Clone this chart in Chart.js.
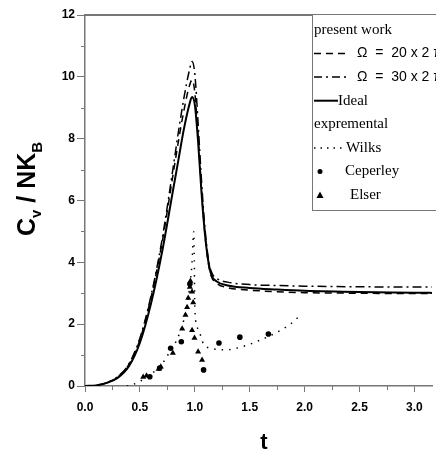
<!DOCTYPE html>
<html>
<head>
<meta charset="utf-8">
<script src="https://cdn.jsdelivr.net/npm/chart.js@4.4.0/dist/chart.umd.min.js"></script>
<style>
	body { margin: 0; background: #fff; }
	canvas { display: block; }
</style>
</head>
<body>
<canvas id="chart_cv" width="436" height="452"></canvas>
<script>
// theory curves share one t grid
var tTheory   = [0, 0.1, 0.2, 0.3, 0.4, 0.5, 0.6, 0.7, 0.8, 0.85, 0.9, 0.95, 0.975, 1.0, 1.03, 1.06, 1.09, 1.12, 1.15, 1.2, 1.3, 1.5, 1.75, 2.0, 2.5, 3.0, 3.2];
var cvIdeal   = [0, 0.02, 0.1, 0.27, 0.64, 1.4, 2.65, 4.3, 6.3, 7.3, 8.3, 9.1, 9.35, 9.1, 7.9, 6.3, 5.0, 4.1, 3.6, 3.38, 3.25, 3.17, 3.12, 3.08, 3.04, 3.02, 3.01];
var cvOmega20 = [0, 0.02, 0.11, 0.3, 0.7, 1.5, 2.85, 4.6, 6.8, 7.9, 8.9, 9.7, 9.9, 9.5, 8.1, 6.4, 5.0, 4.05, 3.55, 3.32, 3.18, 3.1, 3.05, 3.02, 3.0, 2.99, 2.99];
var cvOmega30 = [0, 0.02, 0.11, 0.31, 0.72, 1.55, 2.9, 4.7, 7.0, 8.2, 9.3, 10.2, 10.5, 10.1, 8.5, 6.7, 5.2, 4.2, 3.7, 3.48, 3.36, 3.28, 3.25, 3.23, 3.21, 3.2, 3.2];

// experimental
var tWilks  = [0.38, 0.42, 0.5, 0.585, 0.68, 0.75, 0.83, 0.9, 0.95, 0.975, 0.99, 0.995, 1.0, 1.03, 1.08, 1.14, 1.28, 1.43, 1.6, 1.76, 1.88, 1.95];
var cvWilks = [0.0, 0.03, 0.15, 0.36, 0.6, 0.98, 1.45, 2.14, 3.1, 4.0, 5.0, 4.3, 2.5, 1.85, 1.35, 1.23, 1.17, 1.27, 1.49, 1.76, 2.03, 2.25];

var tCeperley  = [0.59, 0.68, 0.78, 0.877, 0.955, 1.08, 1.22, 1.41, 1.67];
var cvCeperley = [0.3, 0.58, 1.22, 1.43, 3.3, 0.52, 1.39, 1.58, 1.68];

var tElser  = [0.53, 0.56, 0.67, 0.69, 0.8, 0.885, 0.915, 0.93, 0.94, 0.955, 0.96, 0.975, 0.985, 0.975, 0.997, 1.03, 1.066];
var cvElser = [0.29, 0.33, 0.55, 0.62, 1.07, 1.85, 2.3, 2.55, 2.85, 3.2, 3.4, 3.05, 2.7, 1.8, 1.55, 1.11, 0.84];

var xTicks = [0, 0.5, 1.0, 1.5, 2.0, 2.5, 3.0];
var yTicks = [0, 2, 4, 6, 8, 10, 12];

var AXIS_GRAY = '#777';

function toPoints(xs, ys) {
	return xs.map(function (x, i) { return { x: x, y: ys[i] }; });
}

var extras = {
	id: 'extras',
	afterDraw: function (chart) {
		var ctx = chart.ctx;
		var area = chart.chartArea;
		var sx = chart.scales.x;
		var sy = chart.scales.y;
		var i, p;

		ctx.save();
		// top frame line
		ctx.strokeStyle = AXIS_GRAY;
		ctx.lineWidth = 2;
		ctx.beginPath();
		ctx.moveTo(area.left, area.top);
		ctx.lineTo(area.right, area.top);
		ctx.stroke();

		// minor ticks
		ctx.lineWidth = 1;
		ctx.beginPath();
		for (i = 0; i < yTicks.length - 1; i++) {
			p = Math.round(sy.getPixelForValue((yTicks[i] + yTicks[i + 1]) / 2)) + 0.5;
			ctx.moveTo(area.left - 4, p);
			ctx.lineTo(area.left, p);
		}
		for (i = 0; i < xTicks.length; i++) {
			p = Math.round(sx.getPixelForValue(xTicks[i] + 0.25)) + 0.5;
			if (p > area.right) continue;
			ctx.moveTo(p, area.bottom);
			ctx.lineTo(p, area.bottom + 4);
		}
		ctx.stroke();

		// y axis title  C_v / NK_B
		ctx.fillStyle = '#000';
		ctx.translate(35, 236);
		ctx.rotate(-Math.PI / 2);
		ctx.textAlign = 'left';
		ctx.textBaseline = 'alphabetic';
		var big = 'bold 25px "Liberation Sans", Arial, sans-serif';
		var small = 'bold 15px "Liberation Sans", Arial, sans-serif';
		var x = 0;
		ctx.font = big; ctx.fillText('C', x, 0); x += ctx.measureText('C').width;
		ctx.font = small; ctx.fillText('v', x, 6); x += ctx.measureText('v').width;
		ctx.font = big; ctx.fillText(' / NK', x, 0); x += ctx.measureText(' / NK').width;
		ctx.font = small; ctx.fillText('B', x, 7);
		ctx.restore();

		// x axis title
		ctx.save();
		ctx.fillStyle = '#000';
		ctx.font = 'bold 22px "Liberation Sans", Arial, sans-serif';
		ctx.textAlign = 'center';
		ctx.textBaseline = 'middle';
		ctx.fillText('t', 264, 443);
		ctx.restore();

		// legend box
		ctx.save();
		var lx = 312, ly = 14, lw = 140, lh = 196;
		ctx.fillStyle = '#fff';
		ctx.fillRect(lx, ly, lw, lh);
		ctx.strokeStyle = AXIS_GRAY;
		ctx.lineWidth = 1;
		ctx.strokeRect(lx + 0.5, ly + 0.5, lw, lh);

		var rows = [30, 53.6, 77.1, 100.7, 124.3, 147.9, 171.4, 195];
		var serif = '15px "Liberation Serif", "Times New Roman", serif';
		var sans = '14px "Liberation Sans", Arial, sans-serif';
		ctx.fillStyle = '#000';
		ctx.strokeStyle = '#000';
		ctx.textBaseline = 'middle';
		ctx.textAlign = 'left';

		ctx.font = serif;
		ctx.fillText('present work', 314, rows[0]);

		ctx.lineWidth = 1.5;
		ctx.setLineDash([7, 5]);
		ctx.beginPath(); ctx.moveTo(314, rows[1]); ctx.lineTo(349, rows[1]); ctx.stroke();
		ctx.font = sans;
		ctx.fillText('\u03A9  =  20 x 2 \u03C0', 357, rows[1]);

		ctx.setLineDash([8, 4, 2, 4]);
		ctx.beginPath(); ctx.moveTo(314, rows[2]); ctx.lineTo(349, rows[2]); ctx.stroke();
		ctx.fillText('\u03A9  =  30 x 2 \u03C0', 357, rows[2]);

		ctx.setLineDash([]);
		ctx.lineWidth = 2;
		ctx.beginPath(); ctx.moveTo(314, rows[3]); ctx.lineTo(338, rows[3]); ctx.stroke();
		ctx.font = serif;
		ctx.fillText('Ideal', 338, rows[3]);

		ctx.fillText('expremental', 314, rows[4]);

		ctx.setLineDash([1.5, 5]);
		ctx.lineWidth = 1.5;
		ctx.beginPath(); ctx.moveTo(314, rows[5]); ctx.lineTo(345, rows[5]); ctx.stroke();
		ctx.setLineDash([]);
		ctx.fillText('Wilks', 346, rows[5]);

		ctx.beginPath(); ctx.arc(320, rows[6], 2.5, 0, Math.PI * 2); ctx.fill();
		ctx.fillText('Ceperley', 345, rows[6]);

		ctx.beginPath();
		ctx.moveTo(320, rows[7] - 3.5);
		ctx.lineTo(323.5, rows[7] + 3);
		ctx.lineTo(316.5, rows[7] + 3);
		ctx.closePath(); ctx.fill();
		ctx.fillText('Elser', 350, rows[7]);
		ctx.restore();
	}
};

var tickFont = { family: '"Liberation Sans Narrow", "Liberation Sans", Arial, sans-serif', size: 12, weight: 'bold' };

new Chart('chart_cv', {
	type: 'scatter',
	data: {
		datasets: [
			{
				label: 'Ideal',
				data: toPoints(tTheory, cvIdeal),
				showLine: true, pointRadius: 0,
				borderColor: '#000', borderWidth: 2,
				cubicInterpolationMode: 'monotone'
			},
			{
				label: 'Omega 20',
				data: toPoints(tTheory, cvOmega20),
				showLine: true, pointRadius: 0,
				borderColor: '#000', borderWidth: 1.5,
				borderDash: [7, 5],
				cubicInterpolationMode: 'monotone'
			},
			{
				label: 'Omega 30',
				data: toPoints(tTheory, cvOmega30),
				showLine: true, pointRadius: 0,
				borderColor: '#000', borderWidth: 1.5,
				borderDash: [9, 4, 2, 4],
				cubicInterpolationMode: 'monotone'
			},
			{
				label: 'Wilks',
				data: toPoints(tWilks, cvWilks),
				showLine: true, pointRadius: 0,
				borderColor: '#000', borderWidth: 1.5,
				borderDash: [1.5, 6],
				cubicInterpolationMode: 'monotone'
			},
			{
				label: 'Ceperley',
				data: toPoints(tCeperley, cvCeperley),
				pointStyle: 'circle', pointRadius: 2.8,
				backgroundColor: '#000', borderColor: '#000', borderWidth: 0
			},
			{
				label: 'Elser',
				data: toPoints(tElser, cvElser),
				pointStyle: 'triangle', pointRadius: 3.5,
				backgroundColor: '#000', borderColor: '#000', borderWidth: 0
			}
		]
	},
	options: {
		responsive: false,
		animation: false,
		layout: { padding: { top: 15, right: 0, left: 0, bottom: 0 } },
		plugins: {
			legend: { display: false },
			tooltip: { enabled: false }
		},
		scales: {
			x: {
				type: 'linear',
				min: 0,
				max: 3.16,
				afterBuildTicks: function (scale) {
					scale.ticks = xTicks.map(function (v) { return { value: v }; });
				},
				afterFit: function (scale) { scale.height = 66; },
				ticks: {
					color: '#000',
					font: tickFont,
					padding: 8,
					maxRotation: 0,
					callback: function (value) { return Number(value).toFixed(1); }
				},
				grid: { drawOnChartArea: false, drawTicks: true, tickLength: 6, color: AXIS_GRAY },
				border: { display: true, color: AXIS_GRAY, width: 1.5 }
			},
			y: {
				type: 'linear',
				min: 0,
				max: 12,
				afterBuildTicks: function (scale) {
					scale.ticks = yTicks.map(function (v) { return { value: v }; });
				},
				afterFit: function (scale) { scale.width = 85; },
				ticks: {
					color: '#000',
					font: tickFont,
					padding: 2,
					callback: function (value) { return String(value); }
				},
				grid: { drawOnChartArea: false, drawTicks: true, tickLength: 8, color: AXIS_GRAY },
				border: { display: true, color: AXIS_GRAY, width: 1.5 }
			}
		}
	},
	plugins: [extras]
});
</script>
</body>
</html>
